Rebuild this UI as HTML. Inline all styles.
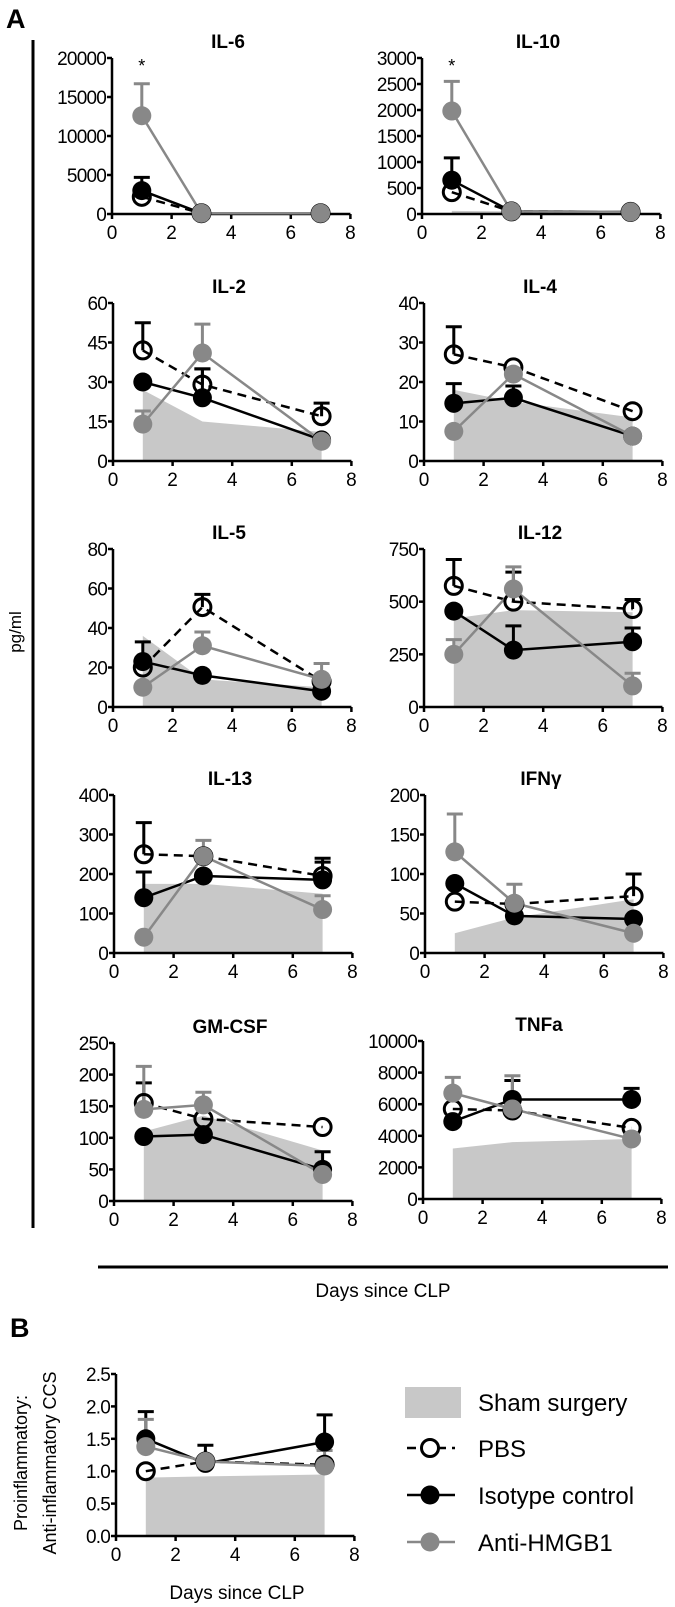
<!DOCTYPE html>
<html><head><meta charset="utf-8">
<style>
html,body{margin:0;padding:0;background:#fff;}
svg{display:block;font-family:"Liberation Sans",sans-serif;}
</style></head>
<body>
<svg id="fig" width="675" height="1607" viewBox="0 0 675 1607">
<text x="6" y="28" font-size="27" font-weight="bold">A</text>
<line x1="33" y1="40" x2="33" y2="1228" stroke="#000" stroke-width="3"/>
<text transform="translate(21,632) rotate(-90)" text-anchor="middle" font-size="17">pg/ml</text>
<line x1="98" y1="1267" x2="668" y2="1267" stroke="#000" stroke-width="3"/>
<text x="383" y="1297" text-anchor="middle" font-size="19">Days since CLP</text>
<text x="10" y="1337" font-size="27" font-weight="bold">B</text>
<g id="legend">
<rect x="405" y="1387" width="56" height="31" fill="#c8c8c8"/>
<text x="478" y="1411" font-size="24">Sham surgery</text>
<line x1="407" y1="1448" x2="455" y2="1448" stroke="#000" stroke-width="2.5" stroke-dasharray="9,6"/>
<circle cx="430" cy="1448" r="8.5" fill="#fff" stroke="#000" stroke-width="3"/>
<text x="478" y="1457" font-size="24">PBS</text>
<line x1="407" y1="1495" x2="455" y2="1495" stroke="#000" stroke-width="2.5"/>
<circle cx="430" cy="1495" r="9.5" fill="#000"/>
<text x="478" y="1504" font-size="24">Isotype control</text>
<line x1="407" y1="1542" x2="455" y2="1542" stroke="#888" stroke-width="2.5"/>
<circle cx="430" cy="1542" r="9.5" fill="#888"/>
<text x="478" y="1551" font-size="24">Anti-HMGB1</text>
</g>
<text transform="translate(27,1463) rotate(-90)" text-anchor="middle" font-size="18">Proinflammatory:</text>
<text transform="translate(56,1463) rotate(-90)" text-anchor="middle" font-size="18">Anti-inflammatory CCS</text>
<text x="237" y="1599" text-anchor="middle" font-size="19">Days since CLP</text>
</svg>
<script>
// Shared x values (days)
const days = [1, 3, 7];
const xTicks = [0, 2, 4, 6, 8];

// Panel names
const panelNames = ["IL-6","IL-10","IL-2","IL-4","IL-5","IL-12","IL-13","IFNγ","GM-CSF","TNFa","CCS ratio"];
// Y max and tick labels per panel
const yMaxes = [20000,3000,60,40,80,750,400,200,250,10000,2.5];
const yTickLabels = [
 ["0","5000","10000","15000","20000"],
 ["0","500","1000","1500","2000","2500","3000"],
 ["0","15","30","45","60"],
 ["0","10","20","30","40"],
 ["0","20","40","60","80"],
 ["0","250","500","750"],
 ["0","100","200","300","400"],
 ["0","50","100","150","200"],
 ["0","50","100","150","200","250"],
 ["0","2000","4000","6000","8000","10000"],
 ["0.0","0.5","1.0","1.5","2.0","2.5"]
];
// Sham surgery values
const shamVals = [[100,100,100],[60,50,40],[27,15,11],[18,15,11],[36,14,10],[420,460,450],[175,175,150],[25,45,68],[110,135,80],[3200,3600,3800],[0.9,0.92,0.95]];
// PBS mean and upper error
const pbsVals = [[2200,100,100],[420,50,40],[42,29,17],[27,23.7,12.6],[20,50.6,13],[575,500,465],[250,245,195],[65,62,72],[155,130,117],[5700,5600,4500],[1.0,1.15,1.1]];
const pbsErr  = [[null,null,null],[null,null,null],[52.5,35,22],[34,null,null],[null,57,null],[700,640,510],[330,null,240],[null,null,100],[187,null,null],[null,null,null],[null,null,null]];
// Isotype control mean and upper error
const isoVals = [[3000,100,100],[650,50,40],[30,24,8],[14.6,16,6.3],[23,16,8],[455,270,310],[140,195,185],[88,47,43],[102,105,50],[4900,6300,6300],[1.5,1.12,1.45]];
const isoErr  = [[4700,null,null],[1080,null,null],[null,35,null],[19.6,19,null],[33,null,null],[null,385,375],[205,null,230],[null,null,null],[null,null,78],[null,7500,7000],[1.92,1.4,1.87]];
// Anti-HMGB1 mean and upper error
const antiVals = [[12600,100,100],[1980,50,40],[14,41,7.5],[7.5,22,6.3],[10,31,14],[250,560,100],[40,245,110],[128,63,25],[145,152,42],[6700,5700,3800],[1.38,1.15,1.08]];
const antiErr  = [[16700,null,null],[2550,null,null],[19,52,null],[null,null,null],[null,38,22],[320,665,160],[null,285,145],[176,87,null],[213,172,null],[7700,7800,null],[1.8,null,1.32]];
// Significance markers
const starPanels = [0, 1];

const layout = [
 {x0:112,bot:214},{x0:422,bot:214},
 {x0:113,bot:461},{x0:424,bot:461},
 {x0:113,bot:707},{x0:424,bot:707},
 {x0:114,bot:953},{x0:425,bot:953},
 {x0:114,bot:1201},{x0:423,bot:1199},
 {x0:116,bot:1536}
];
const svg = document.getElementById('fig');
const NS = 'http://www.w3.org/2000/svg';
function mk(tag, attrs, parent){
  const e = document.createElementNS(NS, tag);
  for (const k in attrs) e.setAttribute(k, attrs[k]);
  (parent||svg).appendChild(e);
  return e;
}
panelNames.forEach((name, i) => {
  const L = layout[i];
  const H = (i===0||i===1) ? 156 : (i===10 ? 162 : 158);
  const pxDay = 29.8;
  const xs = d => L.x0 + d*pxDay;
  const ys = v => L.bot - v/yMaxes[i]*H;
  const g = mk('g', {});
  
  
  let p = 'M'+xs(days[0])+','+L.bot;
  days.forEach((d,j)=>{ p += ' L'+xs(d)+','+ys(shamVals[i][j]); });
  p += ' L'+xs(days[2])+','+L.bot+' Z';
  const area = mk('path',{d:p, fill:'#c8c8c8'}, g);
  
  
  const ax = mk('path',{d:'M'+L.x0+','+(L.bot-H)+' L'+L.x0+','+L.bot+' L'+xs(8)+','+L.bot, fill:'none', stroke:'#000','stroke-width':2.5}, g);
  
  
  xTicks.forEach(t => {
    mk('line',{x1:xs(t),x2:xs(t),y1:L.bot,y2:L.bot+5,stroke:'#000','stroke-width':2.5}, g);
    const tl = mk('text',{x:xs(t),y:L.bot+25,'text-anchor':'middle','font-size':19}, g);
    tl.textContent = t;
    
    
  });
  const nT = yTickLabels[i].length;
  yTickLabels[i].forEach((lab,k) => {
    const v = yMaxes[i]*k/(nT-1);
    mk('line',{x1:L.x0-5,x2:L.x0,y1:ys(v),y2:ys(v),stroke:'#000','stroke-width':2.5}, g);
    const tl = mk('text',{x:L.x0-6,y:ys(v)+7,'text-anchor':'end','font-size':19,'letter-spacing':'-0.8'}, g);
    tl.textContent = lab;
    
    
  });
  if (i < 10) {
    const tt = mk('text',{x:L.x0+116,y:L.bot-H-10,'text-anchor':'middle','font-size':19,'font-weight':'bold'}, g);
    tt.textContent = name;
    
    
  }
  const series = [
    {vals:pbsVals[i], err:pbsErr[i], col:'#000', dash:'9,6', open:true, nm:'pbs'},
    {vals:isoVals[i], err:isoErr[i], col:'#000', dash:null, open:false, nm:'isotype'},
    {vals:antiVals[i], err:antiErr[i], col:'#888', dash:null, open:false, nm:'anti-hmgb1'}
  ];
  series.forEach(s => {
    s.err.forEach((e,j) => {
      if (e===null) return;
      const x = xs(days[j]);
      const eb = mk('path',{d:'M'+x+','+ys(s.vals[j])+' L'+x+','+ys(e)+' M'+(x-8)+','+ys(e)+' L'+(x+8)+','+ys(e), stroke:s.col,'stroke-width':3,fill:'none'}, g);
      
      
    });
    const pts = days.map((d,j)=>xs(d)+','+ys(s.vals[j])).join(' ');
    const attrs = {points:pts, fill:'none', stroke:s.col, 'stroke-width':2.5};
    if (s.dash) attrs['stroke-dasharray'] = s.dash;
    const ln = mk('polyline', attrs, g);
    
    
  });
  series.forEach(s => {
    days.forEach((d,j) => {
      const c = s.open
        ? mk('circle',{cx:xs(d),cy:ys(s.vals[j]),r:8.5,fill:'none',stroke:'#000','stroke-width':3}, g)
        : mk('circle',{cx:xs(d),cy:ys(s.vals[j]),r:9.5,fill:s.col}, g);
      
      
    });
  });
  if (starPanels.includes(i)) {
    const st = mk('text',{x:xs(1),y:L.bot-H+14,'text-anchor':'middle','font-size':18}, g);
    st.textContent = '*';
    
    
  }
});
</script>
</body></html>
